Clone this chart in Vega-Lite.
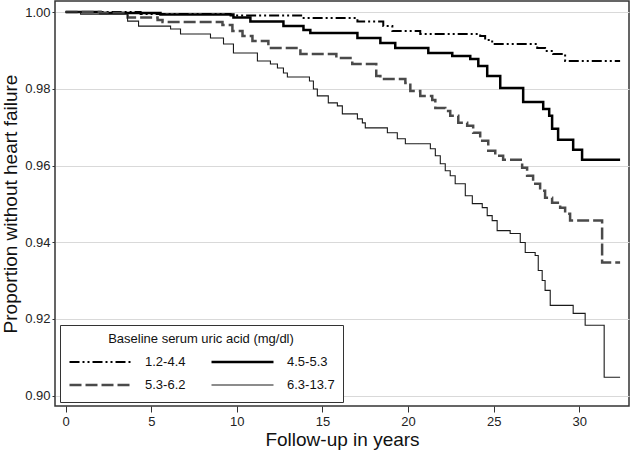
{
 "$schema": "https://vega.github.io/schema/vega-lite/v6.json",
 "width": 574, "height": 405,
 "autosize": {"type": "none"},
 "padding": {"left": 55, "top": 1, "right": 2, "bottom": 44},
 "background": "white",
 "config": {
  "font": "Liberation Sans",
  "view": {"stroke": "#333", "strokeWidth": 1.5},
  "axis": {"labelFontSize": 13, "labelColor": "#222", "titleFontSize": 19, "titleFontWeight": "normal", "titleColor": "#111", "tickColor": "#333", "domain": false}
 },
 "data": {"values": [
  {"g": "1.2-4.4", "t": 0, "s": 1.0},
  {"g": "1.2-4.4", "t": 4.38, "s": 0.99948},
  {"g": "1.2-4.4", "t": 9.63, "s": 0.99909},
  {"g": "1.2-4.4", "t": 13.83, "s": 0.99844},
  {"g": "1.2-4.4", "t": 17.04, "s": 0.99753},
  {"g": "1.2-4.4", "t": 18.55, "s": 0.99636},
  {"g": "1.2-4.4", "t": 19.08, "s": 0.99506},
  {"g": "1.2-4.4", "t": 20.71, "s": 0.99428},
  {"g": "1.2-4.4", "t": 24.21, "s": 0.99376},
  {"g": "1.2-4.4", "t": 24.50, "s": 0.99272},
  {"g": "1.2-4.4", "t": 24.91, "s": 0.99168},
  {"g": "1.2-4.4", "t": 27.54, "s": 0.99064},
  {"g": "1.2-4.4", "t": 28.00, "s": 0.98986},
  {"g": "1.2-4.4", "t": 28.47, "s": 0.98908},
  {"g": "1.2-4.4", "t": 29.17, "s": 0.98726},
  {"g": "1.2-4.4", "t": 32.38, "s": 0.98726},

  {"g": "4.5-5.3", "t": 0, "s": 1.0},
  {"g": "4.5-5.3", "t": 2.04, "s": 0.99974},
  {"g": "4.5-5.3", "t": 5.54, "s": 0.99935},
  {"g": "4.5-5.3", "t": 9.80, "s": 0.99857},
  {"g": "4.5-5.3", "t": 10.79, "s": 0.99753},
  {"g": "4.5-5.3", "t": 12.72, "s": 0.99636},
  {"g": "4.5-5.3", "t": 13.89, "s": 0.99532},
  {"g": "4.5-5.3", "t": 14.29, "s": 0.99454},
  {"g": "4.5-5.3", "t": 17.04, "s": 0.99324},
  {"g": "4.5-5.3", "t": 18.38, "s": 0.99194},
  {"g": "4.5-5.3", "t": 19.25, "s": 0.99064},
  {"g": "4.5-5.3", "t": 21.18, "s": 0.98934},
  {"g": "4.5-5.3", "t": 22.58, "s": 0.98856},
  {"g": "4.5-5.3", "t": 23.63, "s": 0.98778},
  {"g": "4.5-5.3", "t": 24.10, "s": 0.98596},
  {"g": "4.5-5.3", "t": 24.62, "s": 0.98336},
  {"g": "4.5-5.3", "t": 25.38, "s": 0.98023},
  {"g": "4.5-5.3", "t": 26.72, "s": 0.97659},
  {"g": "4.5-5.3", "t": 27.89, "s": 0.97477},
  {"g": "4.5-5.3", "t": 28.24, "s": 0.97295},
  {"g": "4.5-5.3", "t": 28.41, "s": 0.96957},
  {"g": "4.5-5.3", "t": 28.76, "s": 0.96671},
  {"g": "4.5-5.3", "t": 29.64, "s": 0.96411},
  {"g": "4.5-5.3", "t": 30.16, "s": 0.96151},
  {"g": "4.5-5.3", "t": 32.38, "s": 0.96151},

  {"g": "5.3-6.2", "t": 0, "s": 1.0},
  {"g": "5.3-6.2", "t": 2.04, "s": 0.99974},
  {"g": "5.3-6.2", "t": 3.62, "s": 0.99857},
  {"g": "5.3-6.2", "t": 5.37, "s": 0.99792},
  {"g": "5.3-6.2", "t": 5.66, "s": 0.99740},
  {"g": "5.3-6.2", "t": 9.16, "s": 0.99662},
  {"g": "5.3-6.2", "t": 9.74, "s": 0.99506},
  {"g": "5.3-6.2", "t": 10.33, "s": 0.99376},
  {"g": "5.3-6.2", "t": 10.91, "s": 0.99246},
  {"g": "5.3-6.2", "t": 11.84, "s": 0.99064},
  {"g": "5.3-6.2", "t": 13.71, "s": 0.98908},
  {"g": "5.3-6.2", "t": 15.81, "s": 0.98804},
  {"g": "5.3-6.2", "t": 16.74, "s": 0.98648},
  {"g": "5.3-6.2", "t": 18.14, "s": 0.98336},
  {"g": "5.3-6.2", "t": 18.38, "s": 0.98257},
  {"g": "5.3-6.2", "t": 19.84, "s": 0.98153},
  {"g": "5.3-6.2", "t": 20.13, "s": 0.97945},
  {"g": "5.3-6.2", "t": 20.71, "s": 0.97815},
  {"g": "5.3-6.2", "t": 21.41, "s": 0.97711},
  {"g": "5.3-6.2", "t": 21.59, "s": 0.97503},
  {"g": "5.3-6.2", "t": 22.17, "s": 0.97425},
  {"g": "5.3-6.2", "t": 22.46, "s": 0.97295},
  {"g": "5.3-6.2", "t": 22.93, "s": 0.97113},
  {"g": "5.3-6.2", "t": 23.45, "s": 0.97035},
  {"g": "5.3-6.2", "t": 23.80, "s": 0.96853},
  {"g": "5.3-6.2", "t": 24.21, "s": 0.96645},
  {"g": "5.3-6.2", "t": 24.68, "s": 0.96385},
  {"g": "5.3-6.2", "t": 25.09, "s": 0.96255},
  {"g": "5.3-6.2", "t": 25.55, "s": 0.96151},
  {"g": "5.3-6.2", "t": 26.66, "s": 0.95943},
  {"g": "5.3-6.2", "t": 26.95, "s": 0.95735},
  {"g": "5.3-6.2", "t": 27.30, "s": 0.95526},
  {"g": "5.3-6.2", "t": 27.71, "s": 0.95344},
  {"g": "5.3-6.2", "t": 28.00, "s": 0.95162},
  {"g": "5.3-6.2", "t": 28.41, "s": 0.95032},
  {"g": "5.3-6.2", "t": 28.88, "s": 0.94902},
  {"g": "5.3-6.2", "t": 29.17, "s": 0.94746},
  {"g": "5.3-6.2", "t": 29.46, "s": 0.94564},
  {"g": "5.3-6.2", "t": 31.33, "s": 0.93472},
  {"g": "5.3-6.2", "t": 32.38, "s": 0.93472},

  {"g": "6.3-13.7", "t": 0, "s": 1.0},
  {"g": "6.3-13.7", "t": 0.875, "s": 0.99948},
  {"g": "6.3-13.7", "t": 3.62, "s": 0.99766},
  {"g": "6.3-13.7", "t": 4.26, "s": 0.99636},
  {"g": "6.3-13.7", "t": 6.13, "s": 0.99558},
  {"g": "6.3-13.7", "t": 6.71, "s": 0.99428},
  {"g": "6.3-13.7", "t": 8.46, "s": 0.99324},
  {"g": "6.3-13.7", "t": 9.22, "s": 0.99168},
  {"g": "6.3-13.7", "t": 9.80, "s": 0.98934},
  {"g": "6.3-13.7", "t": 11.20, "s": 0.98726},
  {"g": "6.3-13.7", "t": 11.96, "s": 0.98648},
  {"g": "6.3-13.7", "t": 12.37, "s": 0.98544},
  {"g": "6.3-13.7", "t": 12.72, "s": 0.98414},
  {"g": "6.3-13.7", "t": 12.95, "s": 0.98309},
  {"g": "6.3-13.7", "t": 14.24, "s": 0.98205},
  {"g": "6.3-13.7", "t": 14.47, "s": 0.97997},
  {"g": "6.3-13.7", "t": 14.70, "s": 0.97815},
  {"g": "6.3-13.7", "t": 15.34, "s": 0.97633},
  {"g": "6.3-13.7", "t": 15.87, "s": 0.97555},
  {"g": "6.3-13.7", "t": 16.16, "s": 0.97347},
  {"g": "6.3-13.7", "t": 17.04, "s": 0.97217},
  {"g": "6.3-13.7", "t": 17.33, "s": 0.97113},
  {"g": "6.3-13.7", "t": 17.50, "s": 0.96983},
  {"g": "6.3-13.7", "t": 18.79, "s": 0.96853},
  {"g": "6.3-13.7", "t": 19.37, "s": 0.96697},
  {"g": "6.3-13.7", "t": 19.84, "s": 0.96567},
  {"g": "6.3-13.7", "t": 21.30, "s": 0.96437},
  {"g": "6.3-13.7", "t": 21.59, "s": 0.96255},
  {"g": "6.3-13.7", "t": 21.88, "s": 0.96047},
  {"g": "6.3-13.7", "t": 22.17, "s": 0.95865},
  {"g": "6.3-13.7", "t": 22.46, "s": 0.95735},
  {"g": "6.3-13.7", "t": 22.75, "s": 0.95526},
  {"g": "6.3-13.7", "t": 23.34, "s": 0.95214},
  {"g": "6.3-13.7", "t": 23.75, "s": 0.95006},
  {"g": "6.3-13.7", "t": 24.33, "s": 0.94902},
  {"g": "6.3-13.7", "t": 24.62, "s": 0.94694},
  {"g": "6.3-13.7", "t": 24.91, "s": 0.94564},
  {"g": "6.3-13.7", "t": 25.20, "s": 0.94304},
  {"g": "6.3-13.7", "t": 25.96, "s": 0.94226},
  {"g": "6.3-13.7", "t": 26.55, "s": 0.93992},
  {"g": "6.3-13.7", "t": 26.84, "s": 0.93732},
  {"g": "6.3-13.7", "t": 27.42, "s": 0.93654},
  {"g": "6.3-13.7", "t": 27.60, "s": 0.93264},
  {"g": "6.3-13.7", "t": 27.83, "s": 0.93004},
  {"g": "6.3-13.7", "t": 28.00, "s": 0.92744},
  {"g": "6.3-13.7", "t": 28.30, "s": 0.92354},
  {"g": "6.3-13.7", "t": 29.64, "s": 0.92146},
  {"g": "6.3-13.7", "t": 30.34, "s": 0.91834},
  {"g": "6.3-13.7", "t": 31.45, "s": 0.90481},
  {"g": "6.3-13.7", "t": 32.38, "s": 0.90481}
 ]},
 "mark": {"type": "line", "interpolate": "step-after"},
 "encoding": {
  "x": {"field": "t", "type": "quantitative",
   "scale": {"domain": [-0.62, 32.9], "nice": false, "zero": false},
   "axis": {"values": [0, 5, 10, 15, 20, 25, 30], "title": "Follow-up in years", "grid": false, "tickSize": 6, "labelPadding": 3, "titlePadding": 2}},
  "y": {"field": "s", "type": "quantitative",
   "scale": {"domain": [0.8973, 1.0029], "nice": false, "zero": false},
   "axis": {"values": [0.9, 0.92, 0.94, 0.96, 0.98, 1.0], "format": ".2f", "title": "Proportion without heart failure", "grid": true, "gridColor": "#d9d9d9", "gridWidth": 1.2, "tickSize": 3, "labelPadding": 2, "titlePadding": 4}},
  "color": {"field": "g", "type": "nominal",
   "scale": {"domain": ["1.2-4.4", "4.5-5.3", "5.3-6.2", "6.3-13.7"], "range": ["#000000", "#000000", "#4a4a4a", "#1a1a1a"]},
   "legend": {"title": "Baseline serum uric acid (mg/dl)", "orient": "none", "legendX": 5, "legendY": 324, "columns": 2, "direction": "horizontal",
    "strokeColor": "#333", "fillColor": "white", "padding": 8, "titleFontSize": 13, "titleFontWeight": "normal", "titleColor": "#111", "titleAnchor": "middle", "titleAlign": "center", "titleLimit": 400, "titlePadding": 7,
    "labelFontSize": 13, "labelColor": "#111", "symbolType": "stroke", "symbolSize": 3844, "clipHeight": 18, "labelOffset": 12, "columnPadding": 24, "rowPadding": 5}},
  "strokeDash": {"field": "g", "type": "nominal",
   "scale": {"domain": ["1.2-4.4", "4.5-5.3", "5.3-6.2", "6.3-13.7"], "range": [[10, 3, 2, 3, 2, 3], [1, 0], [12, 4], [1, 0]]},
   "legend": {"title": "Baseline serum uric acid (mg/dl)"}},
  "strokeWidth": {"field": "g", "type": "nominal",
   "scale": {"type": "ordinal", "domain": ["1.2-4.4", "4.5-5.3", "5.3-6.2", "6.3-13.7"], "range": [2, 2.5, 2.5, 1.1]},
   "legend": {"title": "Baseline serum uric acid (mg/dl)"}}
 }
}
